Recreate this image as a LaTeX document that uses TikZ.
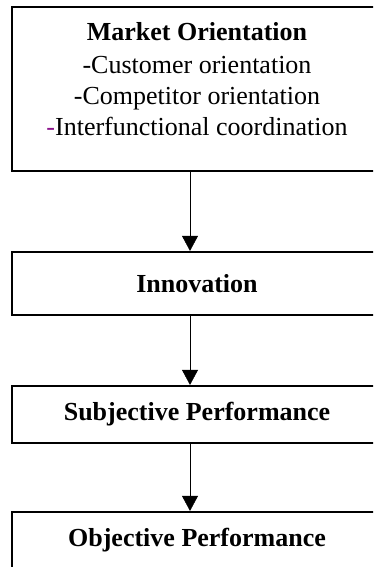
\documentclass[tikz,border=0pt]{standalone}
\usepackage{fontspec}
\setmainfont{Liberation Serif}
\usepackage{xcolor}
\usetikzlibrary{arrows.meta,positioning}
\tikzset{
	-{Triangle[length=15pt,width=16pt]},line width=2pt,
	box/.style ={rectangle, draw, line width=2.2pt, minimum width=370pt, align=center,
		font=\fontsize{26}{31}\selectfont},
}
\definecolor{dashpurple}{RGB}{140,20,140}

\begin{document}
\begin{tikzpicture}[x=1pt,y=-1pt]
    \useasboundingbox (0,0) rectangle (373,567);
    \clip (0,0) rectangle (373,567);

    \node[box, minimum height=164pt] (mo) at (197,89) {\textbf{Market Orientation}\\[2pt]-Customer orientation\\-Competitor orientation\\{\color{dashpurple}-}Interfunctional coordination\\[-10pt]\mbox{}};
    \node[box, minimum height=63pt] (inno) at (197,283.5) {\textbf{Innovation}};

    \node[box, minimum height=57pt] (subj) at (197,414.5) {\textbf{Subjective Performance}};
    \node[box, minimum height=57pt] (obj) at (197,540.5) {\textbf{Objective Performance}};

    \path ([xshift=-7pt]mo.south) edge ([xshift=-7pt]inno.north);
    \path ([xshift=-7pt]inno.south) edge ([xshift=-7pt]subj.north);
    \path ([xshift=-7pt]subj.south) edge ([xshift=-7pt]obj.north);
    %\path (mo) edge[dashed] (obj);

\end{tikzpicture}
\end{document}
